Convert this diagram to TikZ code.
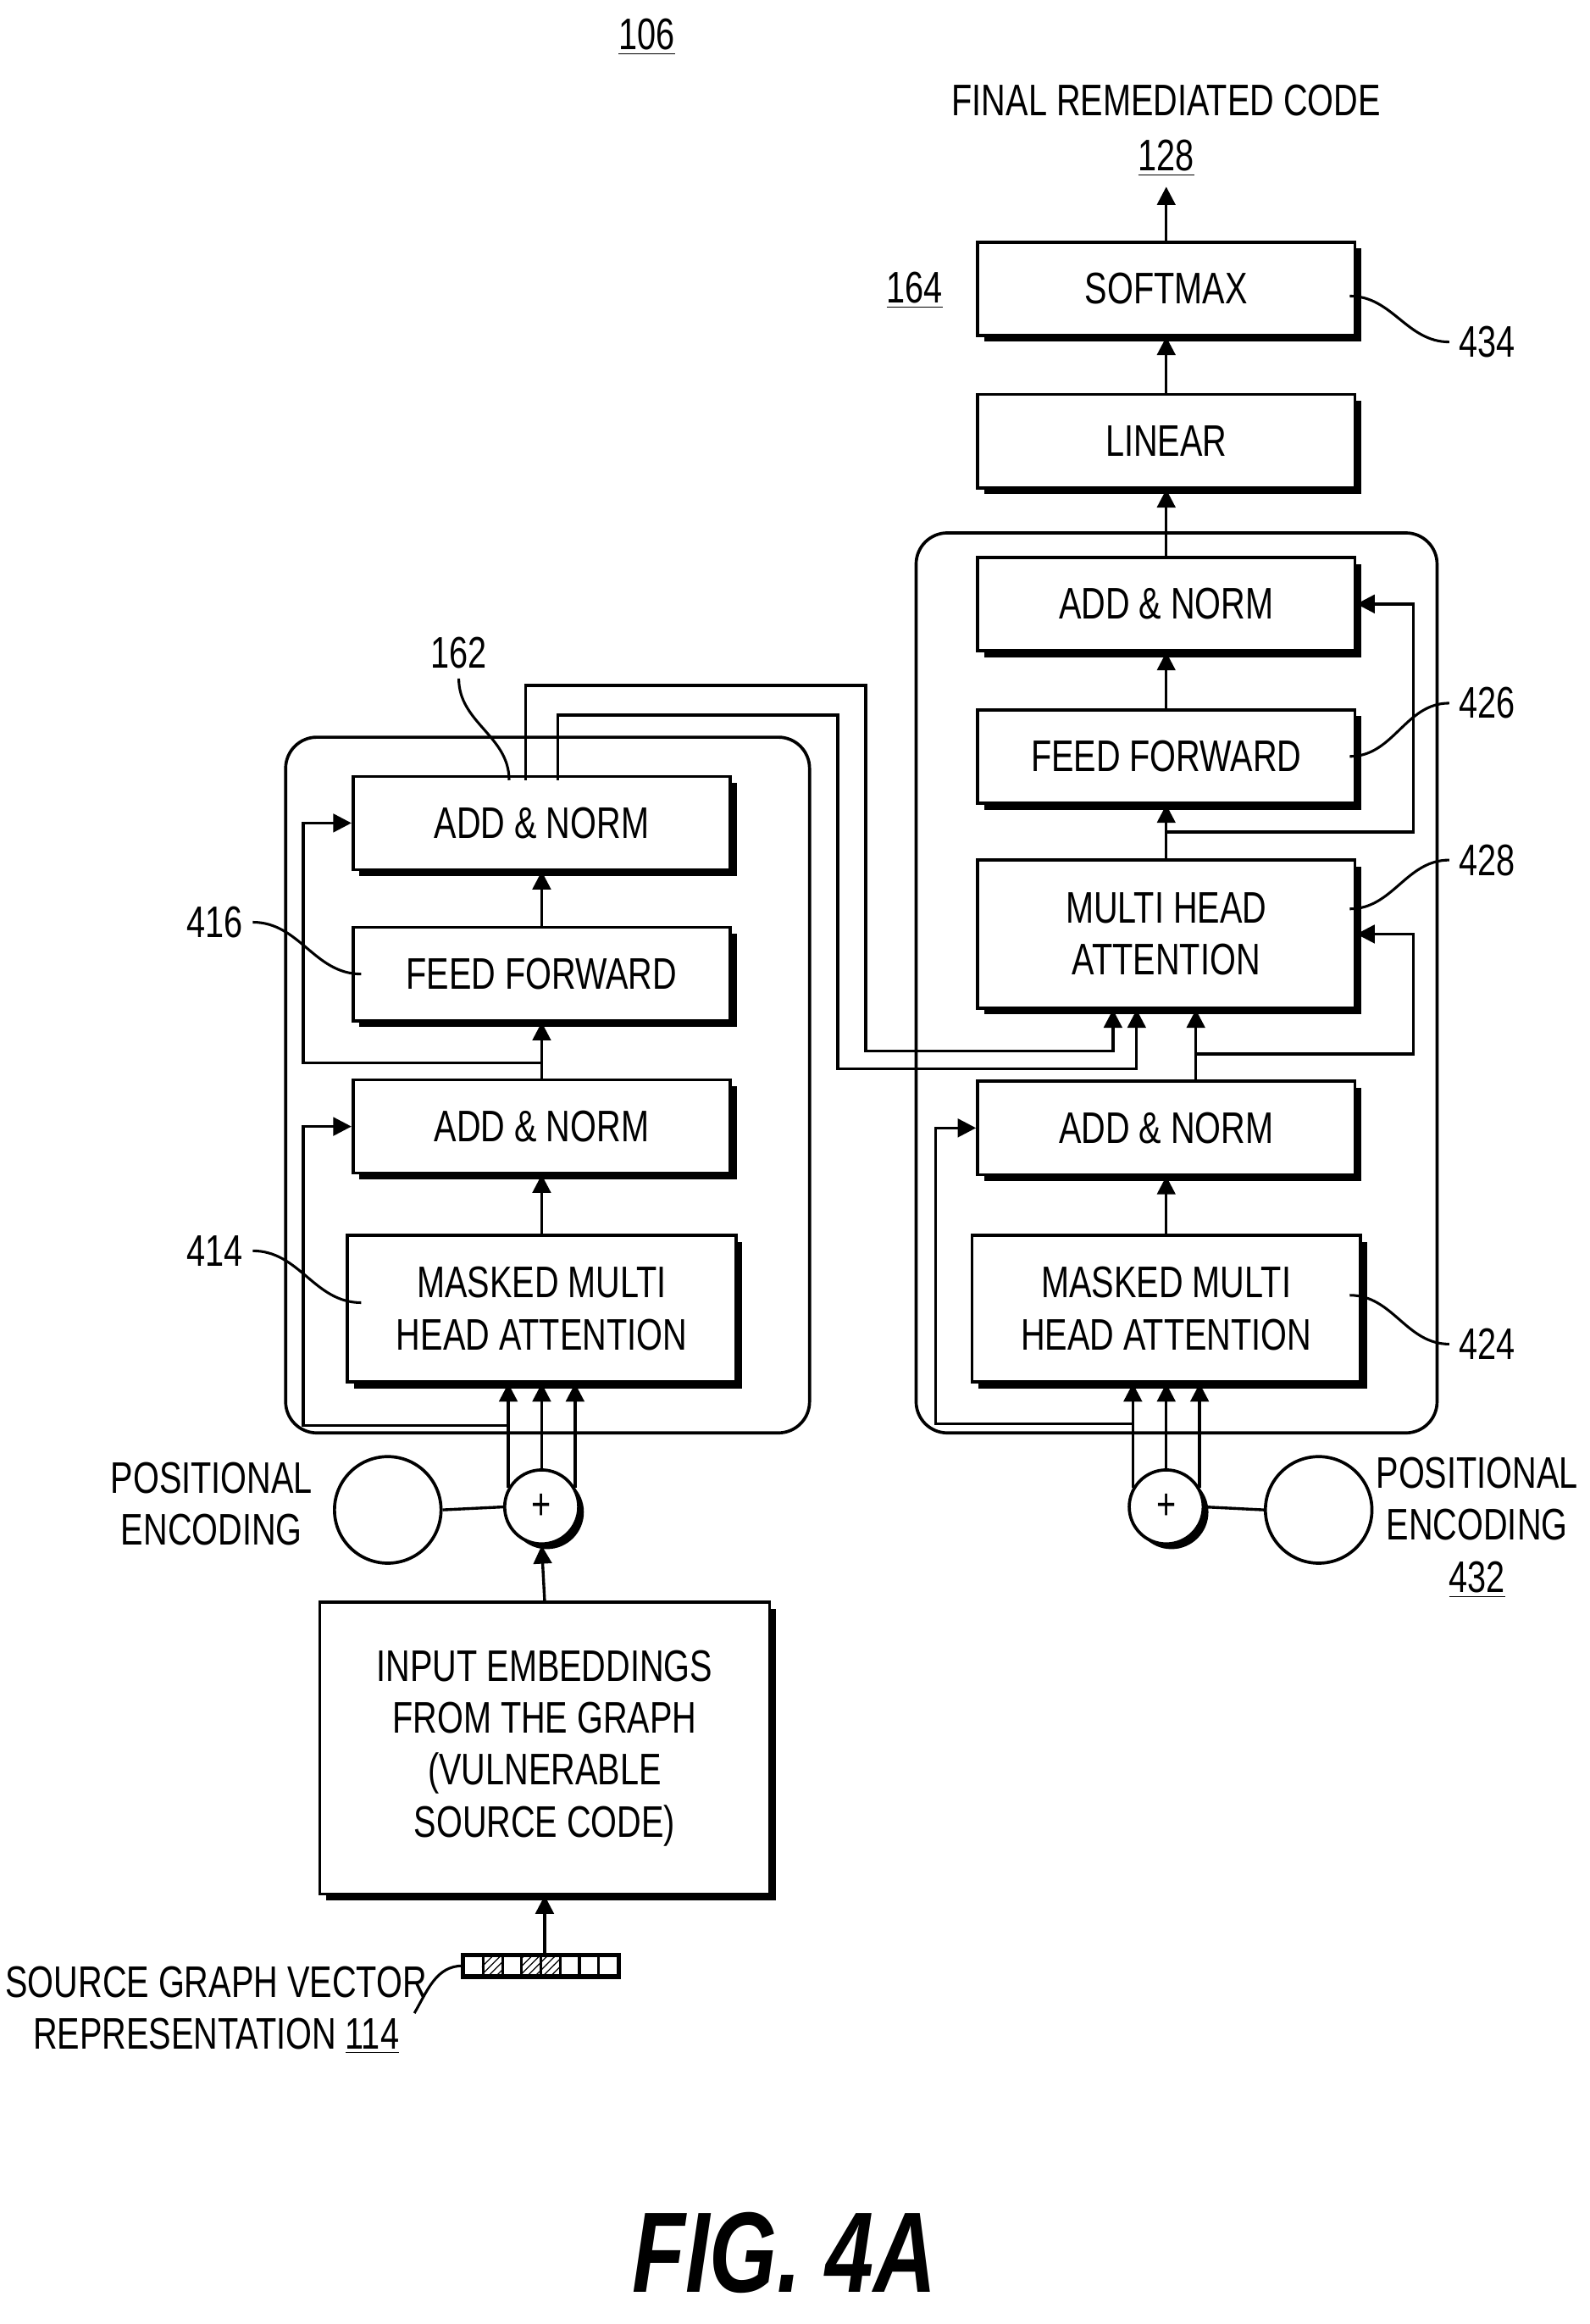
\documentclass[tikz,border=0pt]{standalone}
\usepackage{fontspec}
\setmainfont{Liberation Sans}[FakeStretch=0.76]
\usetikzlibrary{arrows.meta,shadows,patterns}

\begin{document}
\begin{tikzpicture}[%
    x=0.02cm, y=-0.02cm,
    >={Triangle[length=7pt,width=7pt]},
    line width=1.1pt,
    font=\fontsize{17}{20}\selectfont,
    blk/.style={draw, fill=white, line width=1.2pt, minimum width=5.1cm,
      minimum height=1.26cm, align=center,
      drop shadow={shadow xshift=2.5pt, shadow yshift=-2.5pt, opacity=1, fill=black}},
    tall/.style={blk, minimum width=5.25cm, minimum height=1.98cm},
    frame/.style={draw, rounded corners=12pt, line width=1.2pt},
    circ/.style={draw, circle, line width=1.2pt, minimum size=1.44cm},
    plus/.style={draw, circle, fill=white, line width=1.2pt, minimum size=1cm, inner sep=0pt,
      drop shadow={shadow xshift=2pt, shadow yshift=-2pt, opacity=1, fill=black}},
    lead/.style={line width=1pt}
  ]
    \useasboundingbox (0,0) rectangle (1074,1570);

    % encoder side
    \draw[frame] (193,498) rectangle (547,968);
    \node[blk]  (lan2)  at (366,556) {ADD \& NORM};
    \node[blk]  (lff)   at (366,658) {FEED FORWARD};
    \node[blk]  (lan1)  at (366,761) {ADD \& NORM};
    \node[tall] (lmask) at (366,884) {MASKED MULTI\\HEAD ATTENTION};
    \node[plus] (lplus) at (366,1018) {+};
    \node[circ] (lpos)  at (262,1020) {};
    \node[blk, minimum width=6.08cm, minimum height=3.94cm] (inemb) at (368,1181)
      {INPUT EMBEDDINGS\\FROM THE GRAPH\\(VULNERABLE\\SOURCE CODE)};

    % decoder side
    \draw[frame] (619,360) rectangle (971,968);
    \node[blk]  (soft)  at (788,195) {SOFTMAX};
    \node[blk]  (lin)   at (788,298) {LINEAR};
    \node[blk]  (ran2)  at (788,408) {ADD \& NORM};
    \node[blk]  (rff)   at (788,511) {FEED FORWARD};
    \node[blk, minimum height=2cm] (rmha) at (788,631) {MULTI HEAD\\ATTENTION};
    \node[blk]  (ran1)  at (788,762) {ADD \& NORM};
    \node[tall] (rmask) at (788,884) {MASKED MULTI\\HEAD ATTENTION};
    \node[plus] (rplus) at (788,1018) {+};
    \node[circ] (rpos)  at (891,1020) {};

    % vector representation
    \foreach \i in {0,...,7} {
      \node[draw, minimum width=0.26cm, minimum height=0.26cm, inner sep=0pt,
        line width=1pt] (v\i) at (320+13*\i,1328) {};
    }
    \foreach \i in {1,3,4} \fill[pattern=north east lines] (v\i.south west) rectangle (v\i.north east);
    \draw[line width=1.6pt] (v0.north west) rectangle (v7.south east);

    % labels
    \node (n106)  at (437,25) {\underline{106}};
    \node (final) at (788,68) {FINAL REMEDIATED CODE};
    \node (n128)  at (788,107) {\underline{128}};
    \node (n164)  at (618,196) {\underline{164}};
    \node (n434)  at (1005,231) {434};
    \node (n426)  at (1005,475) {426};
    \node (n428)  at (1005,581) {428};
    \node (n424)  at (1005,908) {424};
    \node[align=center] (rposl) at (998,1032) {POSITIONAL\\ENCODING\\\underline{432}};
    \node[align=center] (lposl) at (143,1016) {POSITIONAL\\ENCODING};
    \node (n416)  at (145,623) {416};
    \node (n414)  at (145,845) {414};
    \node (n162)  at (310,441) {162};
    \node[align=center] (srcl) at (146,1358) {SOURCE GRAPH VECTOR\\REPRESENTATION \underline{114}};
    \node[font=\fontsize{44}{50}\selectfont\bfseries\itshape] (fig) at (530,1522) {FIG. 4A};

    % leaders
    \draw[lead] (n434.west) to[out=180,in=0] (912,200);
    \draw[lead] (n426.west) to[out=180,in=0] (912,511);
    \draw[lead] (n428.west) to[out=180,in=0] (912,614);
    \draw[lead] (n424.west) to[out=180,in=0] (912,875);
    \draw[lead] (n416.east) to[out=0,in=180] (244,658);
    \draw[lead] (n414.east) to[out=0,in=180] (244,880);
    \draw[lead] (n162.south) to[out=-90,in=90] (344,527);
    \draw[lead] (280,1360) to[out=60,in=180] (v0.west);

    % encoder flow
    \draw[->] (v0.north -| inemb) -- (inemb.south);
    \draw[->] (inemb.north) -- (lplus.south);
    \draw (lpos.east) -- (lplus.west);
    \foreach \a in {150,90,30}
      \draw[->] (lplus.\a) -- (lplus.\a |- lmask.south);
    \draw[->] (lmask.north) -- (lan1.south);
    \draw[->] (lan1.north) -- (lff.south);
    \draw[->] (lff.north) -- (lan2.south);
    \coordinate (lr1) at (205,963);
    \coordinate (lr2) at (205,718);
    \draw[->] (lr1 -| lplus.150) -- (lr1) |- (lan1.west);
    \draw[->] (lr2 -| lan1) -- (lr2) |- (lan2.west);

    % encoder output into decoder
    \draw[->] (355,527) |- (585,463) |- (752,710) -- (752,682);
    \draw[->] (377,527) |- (566,483) |- (768,722) -- (768,682);

    % decoder flow
    \foreach \a in {150,90,30}
      \draw[->] (rplus.\a) -- (rplus.\a |- rmask.south);
    \draw (rpos.west) -- (rplus.east);
    \draw[->] (rmask.north) -- (ran1.south);
    \draw[->] (808,731) -- (808,682);
    \draw[->] (rmha.north) -- (rff.south);
    \draw[->] (rff.north) -- (ran2.south);
    \draw[->] (ran2.north) -- (lin.south);
    \draw[->] (lin.north) -- (soft.south);
    \draw[->] (soft.north) -- (n128.south);
    \coordinate (rr1) at (632,962);
    \coordinate (rr2) at (955,712);
    \coordinate (rr3) at (955,562);
    \draw[->] (rr1 -| rplus.150) -- (rr1) |- (ran1.west);
    \draw[->] (808,712) -- (rr2) |- (rmha.east);
    \draw[->] (788,562) -- (rr3) |- (ran2.east);
  \end{tikzpicture}
\end{document}
